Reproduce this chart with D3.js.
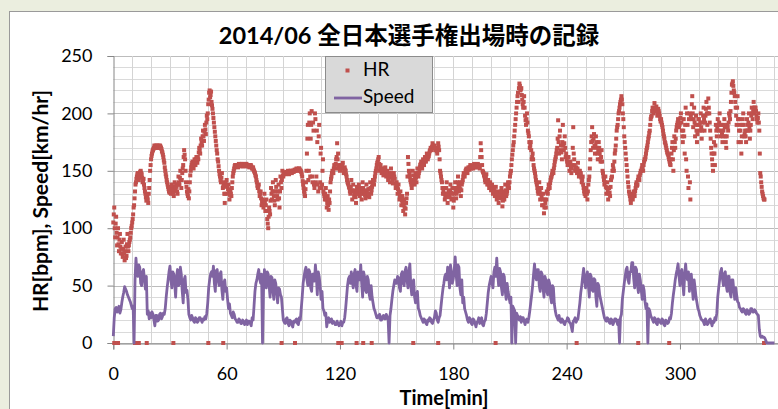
<!DOCTYPE html>
<html>
<head>
<meta charset="utf-8">
<script src="https://cdn.jsdelivr.net/npm/d3@7"></script>
<style>
  html, body { margin: 0; padding: 0; background: #ebeedf; }
  svg { display: block; }
  .tick text { font-family: Lato, "Noto Sans", sans-serif; font-size: 18px; fill: #000; }
</style>
</head>
<body>
<svg width="778" height="409"></svg>
<script>
// ***Data***
var titleText = "2014/06 全日本選手権出場時の記録";
var xTicks = [0, 60, 120, 180, 240, 300];
var yTicks = [0, 50, 100, 150, 200, 250];

// HR [bpm], one sample every 0.5 min starting at 0 min (each row = 5 min)
var hrStep = 0.5;
var hrValues = [
  105,118,92,110,85,100,80,95,78,88,
  75,90,72,84,76,95,80,88,92,100,
  105,112,120,132,140,145,148,142,146,150,
  147,140,143,135,130,124,128,122,135,150,
  160,165,168,170,171,172,170,171,172,170,
  171,169,166,162,157,150,145,140,136,132,
  134,130,138,132,128,140,133,136,130,145,
  138,150,135,148,155,168,160,140,132,128,
  126,140,150,155,158,152,160,155,162,157,
  160,170,165,178,172,185,176,190,182,198,
  200,212,220,216,210,204,196,188,180,172,
  165,158,150,145,140,148,135,138,122,140,
  142,130,138,125,133,128,140,148,152,155,
  154,155,153,156,155,154,156,155,154,155,
  155,156,154,155,153,155,154,152,153,150,
  148,145,140,135,138,128,132,120,125,118,
  130,115,125,108,100,118,112,135,125,140,
  128,120,142,132,125,138,118,145,135,150,
  145,148,147,149,148,150,147,149,150,148,
  150,149,151,150,152,150,151,152,150,149,
  145,138,132,128,140,165,190,150,200,178,
  202,140,185,135,195,145,175,132,190,140,
  170,138,160,130,125,135,118,128,116,122,
  140,145,150,148,155,152,160,174,165,155,
  150,155,152,157,148,153,150,145,140,138,
  135,130,142,125,138,128,133,122,136,130,
  138,128,135,125,140,130,132,126,138,128,
  134,127,140,130,136,142,138,145,150,155,
  158,162,150,155,148,152,146,150,153,145,
  150,142,148,140,152,145,139,148,143,135,
  140,130,138,125,132,120,128,115,125,112,
  122,130,162,150,145,140,135,150,142,138,
  148,140,152,145,150,155,158,152,160,155,
  162,158,165,160,163,167,170,168,174,170,
  172,168,170,165,174,168,150,145,140,130,
  135,125,130,140,122,132,128,138,125,135,
  118,130,140,126,135,145,132,140,128,138,
  142,148,145,150,152,148,153,151,155,152,
  154,152,156,153,155,153,156,154,152,174,
  162,150,148,145,140,147,138,142,135,140,
  133,138,130,135,128,136,125,132,122,130,
  128,135,119,130,125,138,128,132,140,135,
  145,150,160,168,175,185,195,205,215,210,
  226,220,222,212,205,215,198,190,200,185,
  180,170,175,160,165,155,150,145,140,135,
  130,140,125,135,120,130,113,125,118,132,
  130,138,135,142,145,150,148,155,160,165,
  170,194,165,185,172,160,190,168,180,162,
  160,155,162,150,158,148,155,188,160,150,
  153,148,157,145,150,148,140,145,135,130,
  128,135,125,138,145,160,175,188,170,182,
  165,180,170,160,175,165,158,168,150,145,
  138,145,130,140,125,135,128,142,145,155,
  150,165,172,185,190,200,205,210,215,208,
  195,180,170,160,150,140,132,128,122,130,
  125,132,128,135,140,138,145,142,148,150,
  155,150,158,160,165,170,175,180,185,195,
  198,205,200,209,202,206,198,204,200,195,
  195,190,185,180,175,172,168,165,162,158,
  155,165,175,150,180,170,185,190,195,188,
  192,200,185,175,195,165,205,150,190,135,
  200,125,195,215,188,205,180,198,175,190,
  195,185,200,178,192,205,185,198,210,190,
  213,200,185,170,160,150,175,155,190,180,
  195,185,200,180,190,175,185,195,180,170,
  190,185,200,195,210,225,228,220,215,205,
  190,215,175,195,185,165,190,200,180,185,
  175,195,185,200,178,190,205,195,210,200,
  205,198,192,200,185,148,140,132,128,125
];

// HR samples taken in between, at 0.25 min + every 0.5 min
var hrMidOffset = 0.25;
var hrValuesMid = [
  112,100,104,96,92,86,90,84,82,78,
  82,78,80,74,86,84,85,90,96,102,
  108,118,126,138,143,147,144,145,149,148,
  144,141,138,132,127,126,125,130,142,155,
  163,167,169,172,170,171,172,170,171,172,
  170,167,164,159,153,147,142,138,134,131,
  131,135,134,130,136,136,138,132,138,140,
  144,142,142,152,162,164,150,136,130,134,
  132,146,153,157,155,157,158,160,160,162,
  166,168,172,175,180,180,184,186,192,195,
  208,218,214,219,207,200,192,184,176,168,
  160,154,147,142,144,140,136,130,130,137,
  136,134,131,129,130,135,145,150,154,155,
  155,154,155,155,154,155,156,154,155,154,
  156,155,154,154,154,155,153,152,151,149,
  146,142,137,136,132,130,126,123,121,124,
  122,120,115,104,110,115,124,130,132,132,
  124,132,136,128,132,126,132,140,142,146,
  147,148,148,149,149,148,148,150,149,149,
  150,150,150,151,151,151,152,151,150,147,
  141,135,130,134,150,178,142,192,145,190,
  145,192,138,200,140,185,138,180,135,165,
  135,150,132,128,130,125,122,120,125,132,
  143,148,149,152,154,156,162,160,152,152,
  152,154,155,152,150,151,147,142,139,136,
  132,136,133,132,132,130,127,130,133,134,
  133,131,130,133,135,131,129,132,133,130,
  130,134,135,133,139,140,142,148,152,157,
  160,156,152,151,150,149,148,152,149,148,
  146,145,144,146,148,142,144,145,139,138,
  135,134,131,128,126,124,122,120,118,117,
  126,145,156,148,142,138,142,146,140,143,
  144,146,148,148,153,156,155,156,158,158,
  160,162,162,162,165,168,169,171,172,171,
  170,169,167,170,171,160,148,142,135,132,
  130,128,135,130,127,130,133,131,130,126,
  124,135,133,130,140,138,136,134,133,140,
  145,146,148,151,150,151,152,153,153,153,
  153,154,154,154,154,155,155,153,162,168,
  155,149,146,142,144,142,140,138,138,136,
  135,134,132,131,132,130,128,127,126,129,
  132,126,124,128,132,133,130,136,138,140,
  148,155,164,172,180,190,200,210,218,222,
  224,221,216,208,210,205,194,195,192,183,
  175,172,168,162,160,152,148,142,138,132,
  135,132,130,128,125,120,118,122,125,131,
  134,136,139,144,147,149,152,158,162,168,
  178,175,180,168,166,175,172,174,170,165,
  158,158,156,155,152,152,170,165,155,152,
  150,152,150,148,146,144,142,138,132,130,
  132,130,132,142,152,168,180,176,178,172,
  172,175,165,168,170,160,162,158,148,142,
  140,136,135,132,130,131,136,144,150,152,
  158,168,178,188,195,202,208,212,212,200,
  188,175,165,155,145,136,130,125,126,127,
  128,130,132,138,137,142,143,146,150,152,
  152,155,160,162,168,172,178,183,190,197,
  202,202,205,205,204,202,201,202,198,193,
  192,188,182,178,174,170,166,164,160,156,
  160,170,160,168,175,178,188,192,190,190,
  196,192,180,185,180,190,160,200,145,195,
  140,198,208,200,195,192,190,185,182,195,
  190,192,188,185,198,195,192,204,200,200,
  205,192,178,165,155,165,165,172,185,188,
  190,192,190,185,182,180,190,188,175,180,
  188,192,198,202,218,226,224,218,210,198,
  205,195,185,190,175,180,195,190,182,180,
  185,190,192,188,185,198,200,202,205,205,
  202,195,196,192,165,145,136,130,126,125
];

// times [min] where the HR sensor dropped out (HR = 0)
var hrDropTimes = [0.5, 2.5, 11.5, 12.5, 13.5, 17.7, 31.8, 50.3, 58.2, 89.1, 96.2,
  119.1, 120, 120.9, 128.8, 132.3, 136.8, 158.8, 172, 202.4, 245.3, 277.9, 294.3, 344.5];

// Speed [km/hr], one sample every 0.5 min starting at 0 min (each row = 10 min)
var speedStep = 0.5;
var speedValues = [
  6,22,30,31,27,28,32,26,29,35,40,44,49,47,45,42,40,38,36,33,
  30,32,0,55,74,62,58,68,66,52,50,62,64,55,47,58,25,28,21,26,
  22,27,25,20,15,24,24,19,20,25,26,21,23,26,25,30,40,48,55,62,
  67,55,48,62,60,52,40,58,64,50,52,66,60,45,35,55,58,44,46,38,
  25,22,20,24,22,19,18,22,21,18,19,22,22,20,18,21,20,23,21,26,
  35,48,55,60,62,58,67,52,45,63,64,55,50,60,62,46,38,52,55,45,
  48,38,30,34,26,24,22,27,25,21,20,18,18,21,20,17,17,20,19,16,
  18,20,16,19,19,17,15,22,20,32,45,52,55,60,64,56,52,60,0,45,
  64,55,48,62,60,50,40,58,57,45,38,55,52,44,35,48,47,42,40,30,
  20,18,17,21,22,17,15,20,19,16,14,19,18,20,21,17,16,22,20,30,
  40,52,58,63,66,55,50,64,62,48,45,60,60,54,68,58,42,62,58,50,
  38,45,30,28,24,26,14,20,22,18,19,21,17,19,18,16,16,19,17,15,
  17,19,15,18,18,22,30,40,50,56,58,52,62,55,48,60,64,50,45,62,
  60,55,68,52,40,62,58,46,44,58,55,42,38,50,40,35,30,28,25,22,
  22,24,25,20,20,23,24,21,21,25,23,20,0,24,30,38,45,50,55,52,
  52,58,57,48,45,60,62,52,50,63,66,55,48,62,69,50,42,52,55,40,
  35,42,45,30,28,24,22,20,18,21,20,17,16,20,19,22,21,18,17,20,
  22,28,26,20,18,22,24,32,40,47,52,58,60,55,66,60,48,68,62,52,
  56,64,75,60,50,68,66,48,42,55,35,40,30,27,24,20,18,22,21,17,
  16,21,20,17,14,18,19,22,17,20,22,16,15,19,20,26,35,44,50,54,
  58,52,48,62,66,58,74,60,50,65,62,48,42,60,58,45,38,52,45,40,
  35,40,0,32,30,28,0,26,24,21,20,23,18,22,22,19,16,20,21,18,
  22,28,35,42,50,60,69,58,55,64,64,50,45,62,60,48,40,58,55,45,
  42,55,52,40,35,50,48,34,28,24,22,20,24,19,18,21,20,17,16,19,
  19,22,21,18,17,14,10,19,20,22,18,20,21,28,35,44,50,58,65,55,
  48,58,62,50,40,60,58,46,45,56,55,40,32,52,50,42,38,34,30,26,
  22,20,19,22,21,18,17,21,20,16,18,21,21,19,16,20,0,22,25,38,
  45,52,58,64,66,55,52,62,62,70,70,56,48,66,64,50,44,60,55,46,
  38,50,46,36,30,34,0,30,28,24,22,20,18,22,21,17,16,21,20,18,
  17,21,20,16,15,20,19,17,18,22,21,26,35,42,48,55,60,64,69,58,
  50,62,64,52,42,60,69,58,55,62,45,56,60,48,38,55,48,40,35,30,
  28,24,22,20,20,18,16,21,19,16,17,20,21,18,15,19,18,22,20,26,
  40,48,55,62,65,56,50,60,62,50,45,58,58,44,40,55,55,46,38,48,
  42,36,35,31,30,28,27,30,29,26,25,29,28,25,26,30,30,27,27,29,
  28,26,25,24,12,6,5,6,5,5,4,2,0,0,0,0,0,0,0,0,
  0
];

var hrColor = "#c0504d";
var speedColor = "#8064a2";
var markerSize = 4;

// ***Build chart***
var svg = d3.select("svg");

svg.append("rect")
  .attr("width", 778).attr("height", 409)
  .attr("fill", "#ebeedf");

// chart area (continues past the photographed window)
svg.append("rect")
  .attr("x", 9.5).attr("y", 11.5)
  .attr("width", 820).attr("height", 420)
  .attr("fill", "#fff")
  .attr("stroke", "#9a9a9a");

var x = d3.scaleLinear().domain([0, 360]).range([113.3, 793.3]);
var y = d3.scaleLinear().domain([0, 250]).range([343, 56]);

var gGrid = svg.append("g");

// minor grid every 10 units / 10 min
gGrid.selectAll("line.hgrid")
  .data(d3.range(0, 251, 10))
  .enter().append("line")
    .attr("class", "hgrid")
    .attr("x1", x(0)).attr("x2", x(360))
    .attr("y1", d => Math.round(y(d)) + 0.5)
    .attr("y2", d => Math.round(y(d)) + 0.5)
    .attr("stroke", d => d % 50 === 0 ? "#bcbcbc" : "#dadada")
    .attr("stroke-width", 1);

gGrid.selectAll("line.vgrid")
  .data(d3.range(10, 361, 10))
  .enter().append("line")
    .attr("class", "vgrid")
    .attr("y1", y(0)).attr("y2", y(250))
    .attr("x1", d => Math.round(x(d)) + 0.5)
    .attr("x2", d => Math.round(x(d)) + 0.5)
    .attr("stroke", "#d4d4d4")
    .attr("stroke-width", 1);

// axes
var yAxis = svg.append("g")
  .attr("transform", "translate(" + (Math.round(x(0)) + 0.5) + ",0)")
  .call(d3.axisLeft(y).tickValues(yTicks).tickSize(6).tickPadding(15));

var xAxis = svg.append("g")
  .attr("transform", "translate(0," + (Math.round(y(0)) + 0.5) + ")")
  .call(d3.axisBottom(x).tickValues(xTicks).tickSize(6).tickPadding(18));

[yAxis, xAxis].forEach(function(g) {
  g.select(".domain").attr("stroke", "#868686");
  g.selectAll(".tick line").attr("stroke", "#868686");
});

// HR dropouts (value 0)
svg.append("g").selectAll("rect")
  .data(hrDropTimes)
  .enter().append("rect")
    .attr("x", d => x(d) - markerSize / 2)
    .attr("y", y(0) - markerSize / 2)
    .attr("width", markerSize).attr("height", markerSize)
    .attr("fill", hrColor);

// speed line
var speedLine = d3.line()
  .x((d, i) => x(i * speedStep))
  .y(d => y(d));

svg.append("path")
  .datum(speedValues)
  .attr("d", speedLine)
  .attr("fill", "none")
  .attr("stroke", speedColor)
  .attr("stroke-width", 2.8)
  .attr("stroke-linejoin", "round");

// HR markers
var gHR = svg.append("g");

gHR.selectAll("rect.hr")
  .data(hrValues)
  .enter().append("rect")
    .attr("class", "hr")
    .attr("x", (d, i) => x(i * hrStep) - markerSize / 2)
    .attr("y", d => y(d) - markerSize / 2)
    .attr("width", markerSize).attr("height", markerSize)
    .attr("fill", hrColor);

gHR.selectAll("rect.hrmid")
  .data(hrValuesMid)
  .enter().append("rect")
    .attr("class", "hrmid")
    .attr("x", (d, i) => x(i * hrStep + hrMidOffset) - markerSize / 2)
    .attr("y", d => y(d) - markerSize / 2)
    .attr("width", markerSize).attr("height", markerSize)
    .attr("fill", hrColor);

// title
svg.append("text")
  .attr("x", 409).attr("y", 44)
  .attr("text-anchor", "middle")
  .style("font-family", "Lato, 'Noto Sans CJK JP', sans-serif")
  .style("font-size", "23.5px")
  .style("font-weight", "bold")
  .text(titleText);

// axis titles
svg.append("text")
  .attr("x", 444).attr("y", 405)
  .attr("text-anchor", "middle")
  .style("font-family", "Lato, sans-serif")
  .style("font-size", "20px")
  .style("font-weight", "bold")
  .text("Time[min]");

svg.append("text")
  .attr("transform", "translate(48,201) rotate(-90)")
  .attr("text-anchor", "middle")
  .style("font-family", "Lato, sans-serif")
  .style("font-size", "21px")
  .style("font-weight", "bold")
  .text("HR[bpm], Speed[km/hr]");

// legend
var gLegend = svg.append("g").attr("transform", "translate(325,56)");

gLegend.append("rect")
  .attr("x", 0.5).attr("y", 0.5)
  .attr("width", 107).attr("height", 56)
  .attr("fill", "#d9d9d9")
  .attr("stroke", "#8c8c8c");

gLegend.append("rect")
  .attr("x", 20.5).attr("y", 12.5)
  .attr("width", markerSize).attr("height", markerSize)
  .attr("fill", hrColor);

gLegend.append("line")
  .attr("x1", 9).attr("x2", 37)
  .attr("y1", 42).attr("y2", 42)
  .attr("stroke", speedColor)
  .attr("stroke-width", 2.8);

gLegend.selectAll("text.legend")
  .data(["HR", "Speed"])
  .enter().append("text")
    .attr("class", "legend")
    .attr("x", 38)
    .attr("y", (d, i) => 20 + i * 27)
    .style("font-family", "Lato, sans-serif")
    .style("font-size", "19px")
    .text(d => d);
</script>
</body>
</html>
